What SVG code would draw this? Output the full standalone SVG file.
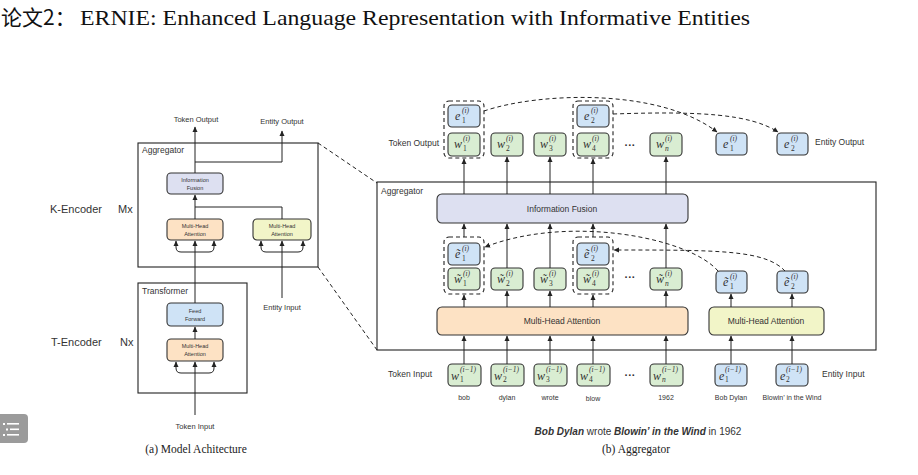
<svg xmlns="http://www.w3.org/2000/svg" width="918" height="475" viewBox="0 0 918 475">
<defs>
<marker id="ah" markerWidth="6" markerHeight="6" refX="5" refY="3" orient="auto" markerUnits="userSpaceOnUse">
<path d="M0,0.5 L5.5,3 L0,5.5 Z" fill="#222"/>
</marker>
<style>
.bx{stroke:#333;stroke-width:1.1}
.g{fill:#d9edd2}.b{fill:#cfe3f6}.o{fill:#fde2c4}.y{fill:#f2f5c8}.p{fill:#dde0f1}
.ln{stroke:#222;stroke-width:1;fill:none}
.da{stroke:#222;stroke-width:1;stroke-dasharray:4 3;fill:none}
.grp{stroke:#222;stroke-width:1.1;stroke-dasharray:4 3;fill:none}
.frame{stroke:#222;stroke-width:1.1;fill:none}
.t{font-family:"Liberation Sans",Arial,sans-serif;fill:#333}
.c{text-anchor:middle}
.m{font-family:"Liberation Serif","DejaVu Serif",serif;font-style:italic;font-size:12px;fill:#333}
.s{font-size:7.5px}
.cap{font-family:"Liberation Serif","Times New Roman",serif;font-size:11.5px;fill:#222;text-anchor:middle}
</style>
</defs>
<rect width="918" height="475" fill="#fff"/>

<g id="title">
<text x="1" y="25" font-family="'Noto Sans CJK SC',sans-serif" font-size="21" fill="#111">论文2：</text>
<text x="80" y="25" font-family="'Liberation Serif','Times New Roman',serif" font-size="22" fill="#111" textLength="670" lengthAdjust="spacingAndGlyphs">ERNIE: Enhanced Language Representation with Informative Entities</text>
</g>

<!-- LEFT: model architecture -->
<g id="left-labels">
<text class="t c" x="196" y="122" font-size="7.5">Token Output</text>
<text class="t c" x="282" y="124" font-size="7.5">Entity Output</text>
<text class="t" x="50" y="213" font-size="11">K-Encoder</text>
<text class="t" x="118" y="213" font-size="11">Mx</text>
<text class="t" x="51" y="346" font-size="11">T-Encoder</text>
<text class="t" x="120" y="346" font-size="11">Nx</text>
<text class="t c" x="282" y="310" font-size="7.5">Entity Input</text>
<text class="t c" x="195" y="429" font-size="7.5">Token Input</text>
<text class="cap" x="196" y="453">(a) Model Achitecture</text>
</g>

<g id="k-aggregator">
<rect class="frame" x="138" y="143" width="180" height="124"/>
<text class="t" x="142" y="153" font-size="8.5">Aggregator</text>
</g>
<g id="transformer">
<rect class="frame" x="138" y="283" width="109" height="110"/>
<text class="t" x="142" y="294" font-size="8.5">Transformer</text>
</g>

<g id="l-fusion">
<rect class="bx p" x="167" y="173" width="56" height="21" rx="4"/>
<text class="t c" x="195" y="182" font-size="5.5">Information</text>
<text class="t c" x="195" y="190" font-size="5.5">Fusion</text>
</g>
<g id="l-mha-token">
<rect class="bx o" x="167" y="219" width="56" height="21" rx="4"/>
<text class="t c" x="195" y="228" font-size="5.5">Multi-Head</text>
<text class="t c" x="195" y="236" font-size="5.5">Attention</text>
</g>
<g id="l-mha-entity">
<rect class="bx y" x="253" y="219" width="58" height="21" rx="4"/>
<text class="t c" x="282" y="228" font-size="5.5">Multi-Head</text>
<text class="t c" x="282" y="236" font-size="5.5">Attention</text>
</g>
<g id="l-ff">
<rect class="bx b" x="167" y="303" width="56" height="23" rx="4"/>
<text class="t c" x="195" y="313" font-size="5.5">Feed</text>
<text class="t c" x="195" y="321" font-size="5.5">Forward</text>
</g>
<g id="l-mha-t">
<rect class="bx o" x="167" y="339" width="56" height="22" rx="4"/>
<text class="t c" x="195" y="348" font-size="5.5">Multi-Head</text>
<text class="t c" x="195" y="356" font-size="5.5">Attention</text>
</g>

<!-- RIGHT: aggregator -->
<g id="right-labels">
<text class="t" x="439" y="146" font-size="8.5" text-anchor="end">Token Output</text>
<text class="t" x="815" y="145" font-size="8.5">Entity Output</text>
<text class="t" x="432" y="377" font-size="8.5" text-anchor="end">Token Input</text>
<text class="t" x="822" y="377" font-size="8.5">Entity Input</text>
<text class="t c" x="630" y="149" font-size="11" font-weight="bold">···</text>
<text class="t c" x="630" y="281" font-size="11" font-weight="bold">···</text>
<text class="t c" x="630" y="379" font-size="11" font-weight="bold">···</text>
<text class="t c" x="464" y="400" font-size="7">bob</text>
<text class="t c" x="507" y="400" font-size="7">dylan</text>
<text class="t c" x="550" y="400" font-size="7">wrote</text>
<text class="t c" x="593" y="401" font-size="7">blow</text>
<text class="t c" x="666" y="400" font-size="7">1962</text>
<text class="t c" x="731" y="400" font-size="7">Bob Dylan</text>
<text class="t c" x="792" y="400" font-size="7">Blowin’ in the Wind</text>
<text class="t c" x="638" y="435" font-size="10" fill="#111"><tspan font-weight="bold" font-style="italic">Bob Dylan</tspan> wrote <tspan font-weight="bold" font-style="italic">Blowin’ in the Wind</tspan> in 1962</text>
<text class="cap" x="636" y="453">(b) Aggregator</text>
</g>

<g id="r-aggregator">
<rect class="frame" x="377" y="182" width="499" height="168"/>
<text class="t" x="381" y="194" font-size="8.5">Aggregator</text>
</g>
<g id="r-fusion">
<rect class="bx p" x="437" y="194" width="251" height="29" rx="5"/>
<text class="t c" x="562" y="212" font-size="8.5">Information Fusion</text>
</g>
<g id="r-mha-token">
<rect class="bx o" x="437" y="307" width="251" height="28" rx="5"/>
<text class="t c" x="562" y="324" font-size="8.5">Multi-Head Attention</text>
</g>
<g id="r-mha-entity">
<rect class="bx y" x="709" y="307" width="115" height="28" rx="5"/>
<text class="t c" x="766" y="324" font-size="8.5">Multi-Head Attention</text>
</g>

<!-- output row -->
<g id="out-group1"><rect class="grp" x="444" y="101" width="40" height="57" rx="5"/></g>
<g id="out-group2"><rect class="grp" x="573" y="101" width="40" height="57" rx="5"/></g>
<g id="out-e1g"><rect class="bx b" x="448" y="105" width="32" height="22" rx="4"/>
<text class="m"><tspan x="455" y="120">e</tspan><tspan class="s" x="462" y="113">(i)</tspan><tspan class="s" x="462" y="123" font-style="normal">1</tspan></text></g>
<g id="out-e2g"><rect class="bx b" x="577" y="105" width="32" height="22" rx="4"/>
<text class="m"><tspan x="584" y="120">e</tspan><tspan class="s" x="591" y="113">(i)</tspan><tspan class="s" x="591" y="123" font-style="normal">2</tspan></text></g>
<g id="out-w1"><rect class="bx g" x="448" y="133" width="32" height="23" rx="4"/>
<text class="m"><tspan x="454" y="148">w</tspan><tspan class="s" x="463" y="141">(i)</tspan><tspan class="s" x="463" y="151" font-style="normal">1</tspan></text></g>
<g id="out-w2"><rect class="bx g" x="491" y="133" width="32" height="23" rx="4"/>
<text class="m"><tspan x="497" y="148">w</tspan><tspan class="s" x="506" y="141">(i)</tspan><tspan class="s" x="506" y="151" font-style="normal">2</tspan></text></g>
<g id="out-w3"><rect class="bx g" x="534" y="133" width="32" height="23" rx="4"/>
<text class="m"><tspan x="540" y="148">w</tspan><tspan class="s" x="549" y="141">(i)</tspan><tspan class="s" x="549" y="151" font-style="normal">3</tspan></text></g>
<g id="out-w4"><rect class="bx g" x="577" y="133" width="32" height="23" rx="4"/>
<text class="m"><tspan x="583" y="148">w</tspan><tspan class="s" x="592" y="141">(i)</tspan><tspan class="s" x="592" y="151" font-style="normal">4</tspan></text></g>
<g id="out-wn"><rect class="bx g" x="650" y="133" width="32" height="23" rx="4"/>
<text class="m"><tspan x="656" y="148">w</tspan><tspan class="s" x="665" y="141">(i)</tspan><tspan class="s" x="665" y="151">n</tspan></text></g>
<g id="out-e1"><rect class="bx b" x="716" y="133" width="31" height="22" rx="4"/>
<text class="m"><tspan x="723" y="148">e</tspan><tspan class="s" x="730" y="141">(i)</tspan><tspan class="s" x="730" y="151" font-style="normal">1</tspan></text></g>
<g id="out-e2"><rect class="bx b" x="777" y="133" width="31" height="22" rx="4"/>
<text class="m"><tspan x="784" y="148">e</tspan><tspan class="s" x="791" y="141">(i)</tspan><tspan class="s" x="791" y="151" font-style="normal">2</tspan></text></g>

<!-- middle row -->
<g id="mid-group1"><rect class="grp" x="444" y="237" width="40" height="57" rx="5"/></g>
<g id="mid-group2"><rect class="grp" x="573" y="237" width="40" height="57" rx="5"/></g>
<g id="mid-e1g"><rect class="bx b" x="448" y="243" width="32" height="22" rx="4"/>
<text class="m"><tspan x="455" y="258">ẽ</tspan><tspan class="s" x="462" y="251">(i)</tspan><tspan class="s" x="462" y="261" font-style="normal">1</tspan></text></g>
<g id="mid-e2g"><rect class="bx b" x="577" y="243" width="32" height="22" rx="4"/>
<text class="m"><tspan x="584" y="258">ẽ</tspan><tspan class="s" x="591" y="251">(i)</tspan><tspan class="s" x="591" y="261" font-style="normal">2</tspan></text></g>
<g id="mid-w1"><rect class="bx g" x="448" y="268" width="32" height="22" rx="4"/>
<text class="m"><tspan x="454" y="283">w̃</tspan><tspan class="s" x="463" y="276">(i)</tspan><tspan class="s" x="463" y="286" font-style="normal">1</tspan></text></g>
<g id="mid-w2"><rect class="bx g" x="491" y="268" width="32" height="22" rx="4"/>
<text class="m"><tspan x="497" y="283">w̃</tspan><tspan class="s" x="506" y="276">(i)</tspan><tspan class="s" x="506" y="286" font-style="normal">2</tspan></text></g>
<g id="mid-w3"><rect class="bx g" x="534" y="268" width="32" height="22" rx="4"/>
<text class="m"><tspan x="540" y="283">w̃</tspan><tspan class="s" x="549" y="276">(i)</tspan><tspan class="s" x="549" y="286" font-style="normal">3</tspan></text></g>
<g id="mid-w4"><rect class="bx g" x="577" y="268" width="32" height="22" rx="4"/>
<text class="m"><tspan x="583" y="283">w̃</tspan><tspan class="s" x="592" y="276">(i)</tspan><tspan class="s" x="592" y="286" font-style="normal">4</tspan></text></g>
<g id="mid-wn"><rect class="bx g" x="650" y="268" width="32" height="22" rx="4"/>
<text class="m"><tspan x="656" y="283">w̃</tspan><tspan class="s" x="665" y="276">(i)</tspan><tspan class="s" x="665" y="286">n</tspan></text></g>
<g id="mid-e1"><rect class="bx b" x="716" y="271" width="31" height="22" rx="4"/>
<text class="m"><tspan x="723" y="286">ẽ</tspan><tspan class="s" x="730" y="279">(i)</tspan><tspan class="s" x="730" y="289" font-style="normal">1</tspan></text></g>
<g id="mid-e2"><rect class="bx b" x="777" y="271" width="31" height="22" rx="4"/>
<text class="m"><tspan x="784" y="286">ẽ</tspan><tspan class="s" x="791" y="279">(i)</tspan><tspan class="s" x="791" y="289" font-style="normal">2</tspan></text></g>

<!-- input row -->
<g id="in-w1"><rect class="bx g" x="448" y="364" width="33" height="22" rx="4"/>
<text class="m"><tspan x="451" y="380">w</tspan><tspan class="s" x="460" y="372">(i−1)</tspan><tspan class="s" x="460" y="382" font-style="normal">1</tspan></text></g>
<g id="in-w2"><rect class="bx g" x="491" y="364" width="33" height="22" rx="4"/>
<text class="m"><tspan x="494" y="380">w</tspan><tspan class="s" x="503" y="372">(i−1)</tspan><tspan class="s" x="503" y="382" font-style="normal">2</tspan></text></g>
<g id="in-w3"><rect class="bx g" x="534" y="364" width="33" height="22" rx="4"/>
<text class="m"><tspan x="537" y="380">w</tspan><tspan class="s" x="546" y="372">(i−1)</tspan><tspan class="s" x="546" y="382" font-style="normal">3</tspan></text></g>
<g id="in-w4"><rect class="bx g" x="577" y="364" width="33" height="22" rx="4"/>
<text class="m"><tspan x="580" y="380">w</tspan><tspan class="s" x="589" y="372">(i−1)</tspan><tspan class="s" x="589" y="382" font-style="normal">4</tspan></text></g>
<g id="in-wn"><rect class="bx g" x="650" y="364" width="33" height="22" rx="4"/>
<text class="m"><tspan x="653" y="380">w</tspan><tspan class="s" x="662" y="372">(i−1)</tspan><tspan class="s" x="662" y="382">n</tspan></text></g>
<g id="in-e1"><rect class="bx b" x="715" y="364" width="32" height="22" rx="4"/>
<text class="m"><tspan x="719" y="380">e</tspan><tspan class="s" x="725" y="372">(i−1)</tspan><tspan class="s" x="725" y="382" font-style="normal">1</tspan></text></g>
<g id="in-e2"><rect class="bx b" x="776" y="364" width="32" height="22" rx="4"/>
<text class="m"><tspan x="780" y="380">e</tspan><tspan class="s" x="786" y="372">(i−1)</tspan><tspan class="s" x="786" y="382" font-style="normal">2</tspan></text></g>

<g id="connectors">
<!-- left -->
<path class="ln" d="M195,415 V362" marker-end="url(#ah)"/>
<path class="ln" d="M195,373 H181 Q176,373 176,368 V362" marker-end="url(#ah)"/>
<path class="ln" d="M195,373 H209 Q214,373 214,368 V362" marker-end="url(#ah)"/>
<path class="ln" d="M195,339 V327" marker-end="url(#ah)"/>
<path class="ln" d="M195,303 V241" marker-end="url(#ah)"/>
<path class="ln" d="M195,252 H181 Q176,252 176,247 V241" marker-end="url(#ah)"/>
<path class="ln" d="M195,252 H209 Q214,252 214,247 V241" marker-end="url(#ah)"/>
<path class="ln" d="M282,298 V241" marker-end="url(#ah)"/>
<path class="ln" d="M282,252 H266 Q261,252 261,247 V241" marker-end="url(#ah)"/>
<path class="ln" d="M282,252 H298 Q303,252 303,247 V241" marker-end="url(#ah)"/>
<path class="ln" d="M195,219 V195" marker-end="url(#ah)"/>
<path class="ln" d="M195,207 H282 V219"/>
<path class="ln" d="M195,173 V127" marker-end="url(#ah)"/>
<path class="ln" d="M195,162 H282 V131" marker-end="url(#ah)"/>
<path class="da" d="M318,143 L377,183"/>
<path class="da" d="M318,267 L377,350"/>
<!-- right: inputs to MHA -->
<path class="ln" d="M464,364 V336" marker-end="url(#ah)"/>
<path class="ln" d="M507,364 V336" marker-end="url(#ah)"/>
<path class="ln" d="M550,364 V336" marker-end="url(#ah)"/>
<path class="ln" d="M593,364 V336" marker-end="url(#ah)"/>
<path class="ln" d="M666,364 V336" marker-end="url(#ah)"/>
<path class="ln" d="M731,364 V336" marker-end="url(#ah)"/>
<path class="ln" d="M792,364 V336" marker-end="url(#ah)"/>
<!-- MHA to middle -->
<path class="ln" d="M464,307 V295" marker-end="url(#ah)"/>
<path class="ln" d="M507,307 V291" marker-end="url(#ah)"/>
<path class="ln" d="M550,307 V291" marker-end="url(#ah)"/>
<path class="ln" d="M593,307 V295" marker-end="url(#ah)"/>
<path class="ln" d="M666,307 V291" marker-end="url(#ah)"/>
<path class="ln" d="M731,307 V294" marker-end="url(#ah)"/>
<path class="ln" d="M792,307 V294" marker-end="url(#ah)"/>
<!-- middle to fusion -->
<path class="ln" d="M464,237 V224" marker-end="url(#ah)"/>
<path class="ln" d="M507,268 V224" marker-end="url(#ah)"/>
<path class="ln" d="M550,268 V224" marker-end="url(#ah)"/>
<path class="ln" d="M593,237 V224" marker-end="url(#ah)"/>
<path class="ln" d="M666,268 V224" marker-end="url(#ah)"/>
<!-- fusion to outputs -->
<path class="ln" d="M464,194 V159" marker-end="url(#ah)"/>
<path class="ln" d="M507,194 V157" marker-end="url(#ah)"/>
<path class="ln" d="M550,194 V157" marker-end="url(#ah)"/>
<path class="ln" d="M593,194 V159" marker-end="url(#ah)"/>
<path class="ln" d="M666,194 V157" marker-end="url(#ah)"/>
<!-- dashed entity alignment curves -->
<path class="da" d="M484,111 C540,92 660,88 717,132" marker-end="url(#ah)"/>
<path class="da" d="M613,114 C700,111 750,114 778,132" marker-end="url(#ah)"/>
<path class="da" d="M718,271 C690,238 570,214 485,247" marker-end="url(#ah)"/>
<path class="da" d="M785,271 C765,250 720,250 614,250" marker-end="url(#ah)"/>
</g>

<g id="ui-icon">
<rect x="-4" y="414" width="32" height="29" rx="4" fill="#9b9b9b"/>
<g fill="#fff">
<rect x="3" y="423" width="2" height="2"/><rect x="7" y="423" width="12" height="1.6"/>
<rect x="6" y="428.5" width="2" height="2"/><rect x="10" y="428.5" width="9" height="1.6"/>
<rect x="3" y="434" width="2" height="2"/><rect x="7" y="434" width="12" height="1.6"/>
</g>
</g>
</svg>
